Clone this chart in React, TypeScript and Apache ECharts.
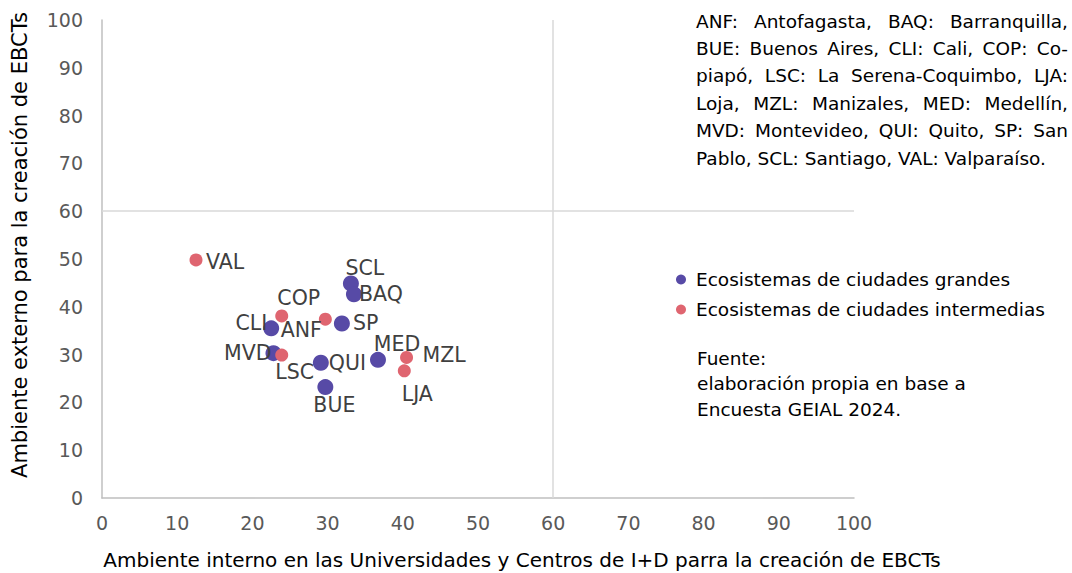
import React, { useEffect, useRef } from "react";
import * as echarts from "echarts";

const FONT = "'DejaVu Sans', sans-serif";

const largeNames = ["SCL", "BAQ", "SP", "CLI", "MVD", "QUI", "BUE", "MED"];
const largeX = [33.1, 33.5, 31.9, 22.5, 22.8, 29.1, 29.7, 36.7];
const largeY = [44.9, 42.6, 36.5, 35.5, 30.3, 28.3, 23.2, 28.9];

const midNames = ["VAL", "COP", "ANF", "LSC", "MZL", "LJA"];
const midX = [12.5, 23.9, 29.7, 23.9, 40.5, 40.2];
const midY = [49.8, 38.1, 37.4, 29.9, 29.4, 26.6];

const seriesNames = ["Ecosistemas de ciudades grandes", "Ecosistemas de ciudades intermedias"];
const axisTicks = [0, 10, 20, 30, 40, 50, 60, 70, 80, 90, 100];

const xTitle = "Ambiente interno en las Universidades y Centros de I+D parra la creación de EBCTs";
const yTitle = "Ambiente externo para la creación de EBCTs";

const noteLines = [
  "ANF: Antofagasta, BAQ: Barranquilla,",
  "BUE: Buenos Aires, CLI: Cali, COP: Co-",
  "piapó, LSC: La Serena-Coquimbo, LJA:",
  "Loja, MZL: Manizales, MED: Medellín,",
  "MVD: Montevideo, QUI: Quito, SP: San",
  "Pablo, SCL: Santiago, VAL: Valparaíso.",
];
const sourceLines = ["Fuente:", "elaboración propia en base a", "Encuesta GEIAL 2024."];

// label placement: [align, dx, dy] relative to point centre
const labelPlace: Record<string, [string, number, number]> = {
  VAL: ["left", 10, 2],
  SCL: ["center", 14, -15],
  BAQ: ["left", 5, 0],
  COP: ["center", 17, -18],
  ANF: ["center", -24, 11],
  SP: ["left", 11, -1],
  CLI: ["right", -4, -5],
  MVD: ["right", -2, 0],
  LSC: ["center", 13, 17],
  QUI: ["left", 8, 0],
  BUE: ["center", 9, 18],
  MED: ["center", 19, -16],
  MZL: ["left", 16, -2],
  LJA: ["center", 13, 23],
};

function buildData(names: string[], xs: number[], ys: number[]) {
  return names.map((n, i) => {
    const p = labelPlace[n];
    return {
      name: n,
      value: [xs[i], ys[i]],
      label: {
        show: true,
        formatter: n,
        position: ["50%", "50%"],
        align: p[0],
        verticalAlign: "middle",
        offset: [p[1], p[2]],
        fontFamily: FONT,
        fontSize: 20.5,
        color: "#404040",
      },
    };
  });
}

function justifiedNote(left: number, right: number, top: number, lh: number, size: number) {
  const ctx = document.createElement("canvas").getContext("2d")!;
  ctx.font = `${size}px ${FONT}`;
  const els: any[] = [];
  noteLines.forEach((line, li) => {
    const y = top + li * lh;
    const words = line.split(" ");
    const last = li === noteLines.length - 1;
    if (last || words.length < 2) {
      els.push({ type: "text", x: left, y, style: { text: line, font: `${size}px ${FONT}`, fill: "#000", verticalAlign: "middle" } });
      return;
    }
    const widths = words.map((w) => ctx.measureText(w).width);
    const total = widths.reduce((a, b) => a + b, 0);
    const gap = (right - left - total) / (words.length - 1);
    let x = left;
    words.forEach((w, wi) => {
      els.push({ type: "text", x, y, style: { text: w, font: `${size}px ${FONT}`, fill: "#000", verticalAlign: "middle" } });
      x += widths[wi] + gap;
    });
  });
  return els;
}

export default function App() {
  const ref = useRef<HTMLDivElement>(null);
  useEffect(() => {
    document.body.style.margin = "0";
    const chart = echarts.init(ref.current!, null, { renderer: "svg" });
    const axisCommon = {
      type: "value",
      min: 0,
      max: 100,
      interval: 10,
      splitLine: { show: false },
      axisTick: { show: false },
      axisLine: { show: true, lineStyle: { color: "#bfbfbf", width: 1.5 } },
    };
    const graphics: any[] = [
      {
        type: "text",
        x: 522,
        y: 560,
        style: { text: xTitle, font: `20px ${FONT}`, fill: "#000", align: "center", verticalAlign: "middle" },
      },
      {
        type: "text",
        x: 20,
        y: 245,
        rotation: Math.PI / 2,
        style: { text: yTitle, font: `21px ${FONT}`, fill: "#000", align: "center", verticalAlign: "middle" },
      },
      ...justifiedNote(696, 1068, 21, 27.4, 18.5),
      ...sourceLines.map((t, i) => ({
        type: "text",
        x: 697,
        y: 358 + i * 25.5,
        style: { text: t, font: `18.5px ${FONT}`, fill: "#000", verticalAlign: "middle" },
      })),
    ];
    chart.setOption({
      animation: false,
      grid: { left: 102, right: 218, top: 20, bottom: 75 },
      xAxis: {
        ...axisCommon,
        axisLabel: {
          margin: 15,
          fontFamily: FONT,
          fontSize: 19,
          color: "#595959",
          formatter: (v: number) => (axisTicks.includes(v) ? String(v) : ""),
        },
      },
      yAxis: {
        ...axisCommon,
        axisLabel: {
          margin: 19,
          fontFamily: FONT,
          fontSize: 19,
          color: "#595959",
          formatter: (v: number) => (axisTicks.includes(v) ? String(v) : ""),
        },
      },
      legend: {
        orient: "vertical",
        left: 671,
        top: 265,
        itemWidth: 10,
        itemHeight: 10,
        itemGap: 11,
        icon: "circle",
        textStyle: { fontFamily: FONT, fontSize: 18.5, color: "#000", padding: [0, 0, 0, 5] },
        data: seriesNames,
      },
      graphic: graphics,
      series: [
        {
          name: seriesNames[0],
          type: "scatter",
          symbolSize: 16,
          itemStyle: { color: "#574AA6", opacity: 1 },
          data: buildData(largeNames, largeX, largeY),
          markLine: {
            silent: true,
            symbol: "none",
            label: { show: false },
            lineStyle: { color: "#d9d9d9", width: 1.5, type: "solid" },
            data: [{ xAxis: 60 }, { yAxis: 60 }],
          },
        },
        {
          name: seriesNames[1],
          type: "scatter",
          symbolSize: 13,
          itemStyle: { color: "#DF6570", opacity: 1 },
          data: buildData(midNames, midX, midY),
        },
      ],
    });
    return () => chart.dispose();
  }, []);
  return <div ref={ref} style={{ width: 1072, height: 573 }} />;
}
